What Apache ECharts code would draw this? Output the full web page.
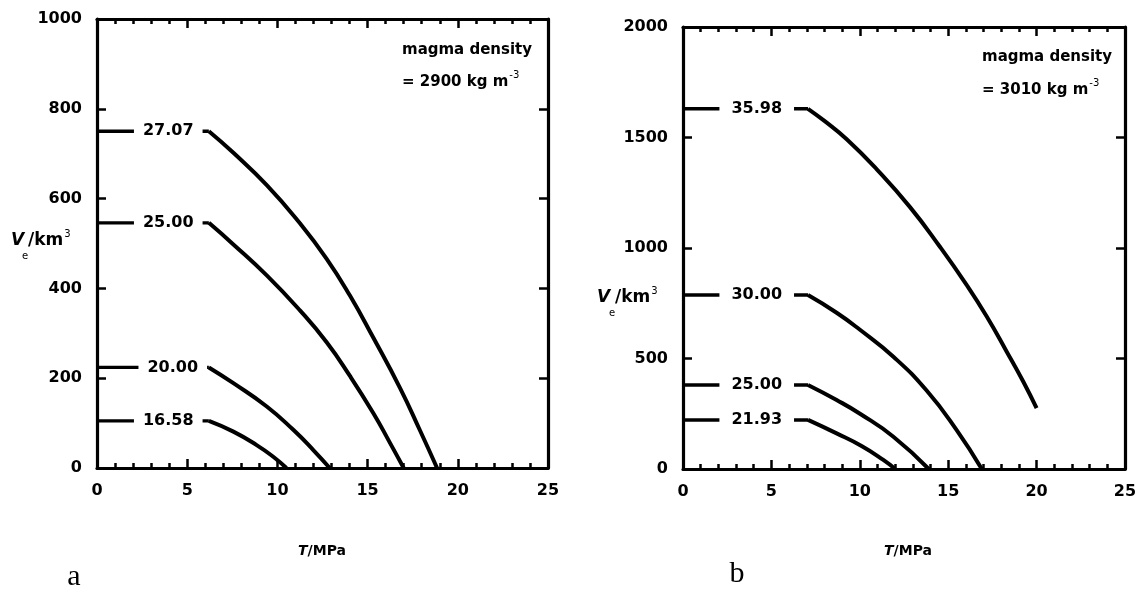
<!DOCTYPE html>
<html>
<head>
<meta charset="utf-8">
<script src="https://cdn.jsdelivr.net/npm/echarts@6/dist/echarts.min.js"></script>
<style>
html,body{margin:0;padding:0;background:#fff;}
#c{width:1141px;height:593px;}
</style>
</head>
<body>
<div id="c"></div>
<script>
// ---------- data ----------
// Panel a : magma density 2900 kg m^-3
const aLabels = ['27.07', '25.00', '20.00', '16.58'];
const aT_2707 = [6.2, 7.56, 9.41, 11.25, 12.73, 14.02, 15.32, 16.80, 17.90, 18.85];
const aV_2707 = [750, 702, 630, 545, 466, 384, 290, 178, 84, 0];
const aT_2500 = [6.2, 7.56, 9.41, 11.25, 12.73, 14.02, 15.32, 16.24, 17.0];
const aV_2500 = [546, 498, 429, 351, 280, 205, 122, 56, 0];
const aT_2000 = [6.2, 7.56, 9.41, 10.88, 11.99, 12.9];
const aV_2000 = [224, 189, 137, 85, 40, 0];
const aT_1658 = [6.2, 7.56, 8.85, 9.77, 10.5];
const aV_1658 = [105, 81, 51, 25, 0];

// Panel b : magma density 3010 kg m^-3
const bLabels = ['35.98', '30.00', '25.00', '21.93'];
const bT_3598 = [7.07, 8.0, 9.26, 10.96, 12.84, 14.5, 16.05, 17.18, 18.31, 19.25, 20.0];
const bV_3598 = [1630, 1575, 1492, 1356, 1185, 1009, 832, 690, 531, 395, 275];
const bT_3000 = [7.07, 8.69, 10.01, 11.9, 13.78, 15.48, 16.9];
const bV_3000 = [787, 707, 630, 508, 355, 176, 0];
const bT_2500 = [7.07, 8.69, 10.01, 11.9, 13.9];
const bV_2500 = [380, 312, 250, 146, 0];
const bT_2193 = [7.07, 8.69, 10.1, 11.33, 12.0];
const bV_2193 = [222, 161, 104, 41, 0];

const xTicks = [0, 5, 10, 15, 20, 25];
const aYTicks = [0, 200, 400, 600, 800, 1000];
const bYTicks = [0, 500, 1000, 1500, 2000];

// ---------- build ----------
const FONT = 'DejaVu Sans';
const zip = (t, v) => t.map((x, i) => [x, v[i]]);

function mkX(grid, pos, showLabel) {
  return {
    type: 'value', gridIndex: grid, position: pos,
    min: xTicks[0], max: xTicks[xTicks.length - 1], interval: xTicks[1] - xTicks[0],
    axisLine: { show: true, onZero: false, lineStyle: { color: '#000', width: 3.2 } },
    axisTick: { show: true, inside: true, length: 9, lineStyle: { color: '#000', width: 2.5 } },
    minorTick: { show: true, splitNumber: 5, length: 5, lineStyle: { color: '#000', width: 2.5 } },
    splitLine: { show: false }, minorSplitLine: { show: false },
    axisLabel: { show: showLabel, margin: 15, color: '#000', fontFamily: FONT, fontWeight: 'bold', fontSize: 16,
      formatter: v => String(v) }
  };
}
function mkY(grid, pos, showLabel, ticks) {
  return {
    type: 'value', gridIndex: grid, position: pos,
    min: ticks[0], max: ticks[ticks.length - 1], interval: ticks[1] - ticks[0],
    axisLine: { show: true, onZero: false, lineStyle: { color: '#000', width: 3.2 } },
    axisTick: { show: true, inside: true, length: 9, lineStyle: { color: '#000', width: 2.5 } },
    splitLine: { show: false },
    axisLabel: { show: showLabel, margin: 15, color: '#000', fontFamily: FONT, fontWeight: 'bold', fontSize: 16,
      formatter: v => String(v) }
  };
}

const series = [];
function addCurve(xi, yi, T, V, label, labelX, pad) {
  series.push({
    type: 'line', xAxisIndex: xi, yAxisIndex: yi, symbol: 'none', silent: true, z: 2,
    data: [[0, V[0]], [T[0], V[0]]],
    lineStyle: { color: '#000', width: 3.4, cap: 'butt' }
  });
  series.push({
    type: 'line', xAxisIndex: xi, yAxisIndex: yi, symbol: 'none', silent: true, z: 2,
    smooth: 0.5, data: zip(T, V),
    lineStyle: { color: '#000', width: 4, cap: 'butt', join: 'round' }
  });
  series.push({
    type: 'scatter', xAxisIndex: xi, yAxisIndex: yi, silent: true, z: 5,
    symbolSize: 1, itemStyle: { color: '#fff', opacity: 1 },
    data: [[labelX, V[0]]],
    label: {
      show: true, position: 'inside', formatter: label, opacity: 1,
      color: '#000', fontFamily: FONT, fontWeight: 'bold', fontSize: 16,
      backgroundColor: '#fff', padding: pad
    }
  });
}
addCurve(0, 0, aT_2707, aV_2707, aLabels[0], 3.95, [2, 9, 2, 9]);
addCurve(0, 0, aT_2500, aV_2500, aLabels[1], 3.95, [2, 9, 2, 9]);
addCurve(0, 0, aT_2000, aV_2000, aLabels[2], 4.2, [2, 9, 2, 9]);
addCurve(0, 0, aT_1658, aV_1658, aLabels[3], 3.95, [2, 9, 2, 9]);
addCurve(2, 2, bT_3598, bV_3598, bLabels[0], 4.17, [2, 12, 2, 12]);
addCurve(2, 2, bT_3000, bV_3000, bLabels[1], 4.17, [2, 12, 2, 12]);
addCurve(2, 2, bT_2500, bV_2500, bLabels[2], 4.17, [2, 12, 2, 12]);
addCurve(2, 2, bT_2193, bV_2193, bLabels[3], 4.17, [2, 12, 2, 12]);

const mctx = document.createElement('canvas').getContext('2d');
function w(text, font) { mctx.font = font; return mctx.measureText(text).width; }
function t(x, y, text, font, align) {
  return { type: 'text', x: x, y: y, silent: true, z: 10,
    style: { text: text, fill: '#000', font: font, align: align || 'left', verticalAlign: 'middle' } };
}
const f = (s, wt, st) => (st || 'normal') + ' ' + (wt || 'normal') + ' ' + s + 'px "' + FONT + '"';
const nameB = f(17, 'bold'), nameI = f(17, 'bold', 'italic'), sub = f(10);
const axB = f(14, 'bold'), axI = f(14, 'bold', 'italic');
const ann = f(15, 'bold');

const graphic = [];
function yName(xV, xe, xkm, y) {
  graphic.push(t(xV, y, 'V', nameI), t(xe, y + 15, 'e', sub), t(xkm, y, '/km', nameB),
    t(xkm + w('/km', nameB) + 1, y - 7, '3', sub));
}
yName(11, 22, 28, 241);
yName(597, 609, 615, 298);
function xName(xc, y) {
  const wt = w('T', axI), wr = w('/MPa', axB), x0 = xc - (wt + wr) / 2;
  graphic.push(t(x0, y, 'T', axI), t(x0 + wt, y, '/MPa', axB));
}
xName(322, 551);
xName(908, 551);
function annot(x, y1, y2, line2) {
  graphic.push(t(x, y1, 'magma density', ann), t(x, y2, line2, ann),
    t(x + w(line2, ann) + 1, y2 - 7, '-3', sub));
}
annot(402, 50, 82, '= 2900 kg m');
annot(982, 57, 90, '= 3010 kg m');
graphic.push(t(74, 577, 'a', 'normal 30px "Liberation Serif"', 'center'));
graphic.push(t(737, 574, 'b', 'normal 30px "Liberation Serif"', 'center'));

const chart = echarts.init(document.getElementById('c'), null, { renderer: 'canvas' });
chart.setOption({
  animation: false,
  backgroundColor: '#fff',
  grid: [
    { left: 97, top: 19, width: 451, height: 449 },
    { left: 683, top: 27, width: 442, height: 442 }
  ],
  xAxis: [mkX(0, 'bottom', true), mkX(0, 'top', false), mkX(1, 'bottom', true), mkX(1, 'top', false)],
  yAxis: [mkY(0, 'left', true, aYTicks), mkY(0, 'right', false, aYTicks), mkY(1, 'left', true, bYTicks), mkY(1, 'right', false, bYTicks)],
  series: series,
  graphic: graphic
});
</script>
</body>
</html>
